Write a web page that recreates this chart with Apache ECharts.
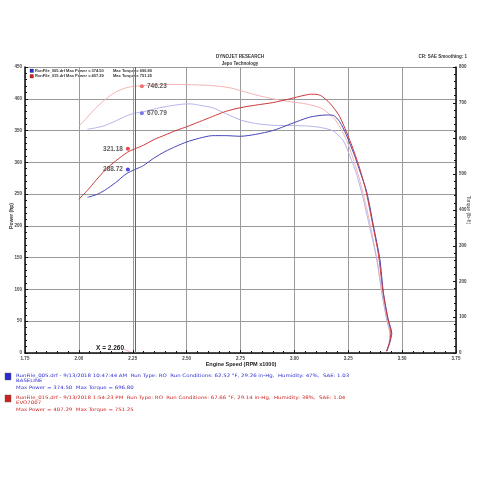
<!DOCTYPE html>
<html>
<head>
<meta charset="utf-8">
<script src="https://cdn.jsdelivr.net/npm/echarts/dist/echarts.min.js"></script>
<style>html,body{margin:0;padding:0;background:#fff;}#c{width:480px;height:480px;}</style>
</head>
<body>
<div id="c"></div>
<script>
// ---- data (x = engine speed, RPM x1000) ----
const xTicks = ['1.75','2.00','2.25','2.50','2.75','3.00','3.25','3.50','3.75'];
const powerTicks = [0,50,100,150,200,250,300,350,400,450];
const torqueTicks = [0,100,200,300,400,500,600,700,800];

const bluePower = [[2.04,245],[2.08,249],[2.12,256],[2.17,268],[2.22,282],[2.26,288.72],[2.30,295],[2.345,306],[2.40,317],[2.45,325],[2.50,332],[2.56,338],[2.62,342],[2.68,342],[2.75,341],[2.82,344],[2.90,350],[2.98,360],[3.07,371],[3.15,374.5],[3.18,374],[3.21,364],[3.24,344],[3.28,310],[3.30,290],[3.336,253],[3.367,200],[3.397,147],[3.413,95],[3.436,52],[3.452,31],[3.444,18],[3.428,3]];
const redPower = [[2.00,242],[2.04,256],[2.08,272],[2.12,287],[2.17,302],[2.226,316],[2.26,321.18],[2.30,327],[2.35,336],[2.40,343],[2.45,350],[2.50,356],[2.56,364],[2.62,372],[2.68,380],[2.75,386],[2.82,390],[2.90,394],[2.98,400],[3.04,405],[3.08,407.29],[3.12,405.5],[3.165,393],[3.21,372],[3.258,334],[3.297,297],[3.33,258],[3.36,208],[3.39,155],[3.41,100],[3.432,56],[3.448,32],[3.442,17],[3.428,3]];
const redTorque = [[2.00,634],[2.04,660],[2.08,686],[2.12,708],[2.17,730],[2.22,742],[2.26,746.23],[2.30,748],[2.38,751],[2.46,751.25],[2.54,750],[2.62,748],[2.70,742],[2.75,734],[2.82,722],[2.90,711],[2.98,703],[3.06,696],[3.13,683],[3.19,652],[3.243,594],[3.281,528],[3.305,480],[3.343,385],[3.38,270],[3.405,172],[3.428,95],[3.442,55],[3.44,30],[3.428,4]];
const blueTorque = [[2.04,626],[2.08,630],[2.12,636],[2.17,649],[2.22,663],[2.26,670.79],[2.30,675],[2.36,684],[2.42,691],[2.48,696],[2.52,696.8],[2.56,693],[2.62,686],[2.68,670],[2.75,652],[2.82,642],[2.90,637],[3.00,636],[3.06,635],[3.12,631],[3.18,621],[3.227,594],[3.258,550],[3.289,500],[3.32,430],[3.352,345],[3.385,255],[3.407,165],[3.43,90],[3.446,52],[3.443,30],[3.43,5]];

const cursorX = 2.26;
const cursorPower = { blue: 288.72, red: 321.18 };
const cursorTorque = { blue: 670.79, red: 746.23 };

const runInfo = [
  { color:'#2b2bd0', line1:'RunFile_005.drf - 9/13/2018 10:47:44 AM  Run Type: RO  Run Conditions: 62.52 °F, 29.26 in-Hg,  Humidity: 47%,  SAE: 1.03', line2:'BASELINE', line3:'Max Power = 374.50  Max Torque = 696.80' },
  { color:'#d02020', line1:'RunFile_015.drf - 9/13/2018 1:54:23 PM  Run Type: RO  Run Conditions: 67.66 °F, 29.14 in-Hg,  Humidity: 38%,  SAE: 1.04', line2:'EVO7007', line3:'Max Power = 407.29  Max Torque = 751.25' }
];
const legendRows = [
  { color:'#2b2bd0', a:'RunFile_005.drf Max Power = 374.50', b:'Max Torque = 696.80' },
  { color:'#d02020', a:'RunFile_015.drf Max Power = 407.29', b:'Max Torque = 751.25' }
];

const FONT = 'Liberation Sans, Arial, sans-serif';
const WIDE = 'DejaVu Sans, Verdana, sans-serif';
const chart = echarts.init(document.getElementById('c'), null, {renderer:'canvas'});

const graphics = [
  {type:'text', left:'center', top:54, style:{text:'DYNOJET RESEARCH', font:'bold 4.5px '+FONT, fill:'#333'}},
  {type:'text', left:'center', top:61, style:{text:'Jepo Technology', font:'bold 4.5px '+FONT, fill:'#333'}},
  {type:'text', right:13, top:54, style:{text:'CR: SAE Smoothing: 1', font:'bold 4.5px '+FONT, fill:'#333'}},
  {type:'text', x:96, y:345, style:{text:'X = 2.260', font:'bold 6.5px '+FONT, fill:'#222'}},
  {type:'line', shape:{x1:124, y1:349, x2:134, y2:354}, style:{stroke:'#f08080', lineWidth:0.6}},
  {type:'text', x:12, y:216, rotation:Math.PI/2, style:{text:'Power (hp)', font:'bold 5px '+FONT, fill:'#333', align:'center', verticalAlign:'middle'}},
  {type:'text', x:468, y:210, rotation:-Math.PI/2, style:{text:'Torque (lb-ft)', font:'5px '+FONT, fill:'#444', align:'center', verticalAlign:'middle'}},
  {type:'text', x:241, y:364, style:{text:'Engine Speed (RPM x1000)', font:'bold 5.5px '+FONT, fill:'#222', align:'center', verticalAlign:'middle'}}
];
legendRows.forEach((r,i)=>{
  const y = 69 + i*5.5;
  graphics.push({type:'rect', shape:{x:30, y:y, width:3.5, height:3.5}, style:{fill:r.color, stroke:'#333', lineWidth:0.3}});
  graphics.push({type:'text', x:35, y:y-0.3, style:{text:r.a, font:'bold 4px '+FONT, fill:'#333'}});
  graphics.push({type:'text', x:113, y:y-0.3, style:{text:r.b, font:'bold 4px '+FONT, fill:'#333'}});
});
runInfo.forEach((r,i)=>{
  const y0 = 373 + i*22;
  graphics.push({type:'rect', shape:{x:5, y:y0, width:6, height:7}, style:{fill:r.color, stroke:'#555', lineWidth:0.4}});
  graphics.push({type:'text', x:16, y:y0, scaleX:1.18, style:{text:r.line1, font:'4.6px '+WIDE, fill:r.color}});
  graphics.push({type:'text', x:16, y:y0+5, scaleX:1.18, style:{text:r.line2, font:'4.6px '+WIDE, fill:r.color}});
  graphics.push({type:'text', x:16, y:y0+12.5, scaleX:1.18, style:{text:r.line3, font:'4.6px '+WIDE, fill:r.color}});
});

function lineSeries(name, data, color, yIndex, z){
  return {name, type:'line', data, yAxisIndex:yIndex, showSymbol:false, smooth:0.25, smoothMonotone:'none',
    lineStyle:{color, width:1}, itemStyle:{color}, z, animation:false};
}
function markerSeries(value, yIndex, color, side){
  return {type:'scatter', yAxisIndex:yIndex, data:[[cursorX, value]], symbol:'circle', symbolSize:4,
    symbolOffset:[side==='left'?-7:7,0], itemStyle:{color}, z:10, animation:false,
    label:{show:true, position:side, distance: 3,
      formatter: value.toFixed(2), fontFamily:FONT, fontWeight:'bold', fontSize:6.5, color:'#333'}};
}

chart.setOption({
  animation:false,
  backgroundColor:'#fff',
  grid:{left:25, right:24, top:67, bottom:127, containLabel:false},
  xAxis:{type:'value', min:1.75, max:3.75, interval:0.25,
    axisLine:{show:true, onZero:false, lineStyle:{color:'#111', width:1.5}},
    axisTick:{show:true, inside:true, length:3, lineStyle:{color:'#111'}},
    minorTick:{show:true, splitNumber:5, length:2, lineStyle:{color:'#111'}},
    axisLabel:{fontFamily:FONT, fontSize:4.5, fontWeight:'bold', color:'#444', margin:3,
      formatter:v=>{const s=v.toFixed(2); return xTicks.indexOf(s)>=0?s:'';}},
    splitLine:{show:true, lineStyle:{color:'#9a9a9a', width:1}}},
  yAxis:[
    {type:'value', min:0, max:450, interval:50, position:'left',
      axisLine:{show:true, lineStyle:{color:'#111', width:1.5}},
      axisTick:{show:true, inside:true, length:3, lineStyle:{color:'#111'}},
      minorTick:{show:true, splitNumber:5, length:2, lineStyle:{color:'#111'}},
      axisLabel:{fontFamily:FONT, fontSize:4.5, fontWeight:'bold', color:'#444', margin:3,
        formatter:v=>powerTicks.indexOf(v)>=0?String(v):''},
      splitLine:{show:true, lineStyle:{color:'#9a9a9a', width:1}}},
    {type:'value', min:0, max:800, interval:100, position:'right',
      axisLine:{show:true, lineStyle:{color:'#111', width:1.5}},
      axisTick:{show:true, inside:true, length:3, lineStyle:{color:'#111'}},
      minorTick:{show:true, splitNumber:5, length:2, lineStyle:{color:'#111'}},
      axisLabel:{fontFamily:FONT, fontSize:4.5, fontWeight:'bold', color:'#444', margin:3,
        formatter:v=>torqueTicks.indexOf(v)>=0?String(v):''},
      splitLine:{show:false}}
  ],
  series:[
    lineSeries('RunFile_015 Torque', redTorque, '#f2b3b3', 1, 2),
    lineSeries('RunFile_005 Torque', blueTorque, '#b4b4ea', 1, 2),
    lineSeries('RunFile_005 Power', bluePower, '#4646b8', 0, 3),
    Object.assign(lineSeries('RunFile_015 Power', redPower, '#cc3a3a', 0, 3), {
      markLine:{silent:true, symbol:'none', label:{show:false}, lineStyle:{color:'#666', width:1, type:'solid'},
        data:[{xAxis:cursorX}]}}),
    markerSeries(cursorPower.blue, 0, '#1a1ae0', 'left'),
    markerSeries(cursorPower.red, 0, '#e01a1a', 'left'),
    markerSeries(cursorTorque.blue, 1, '#5a5ae8', 'right'),
    markerSeries(cursorTorque.red, 1, '#f05050', 'right')
  ],
  graphic: graphics
});
</script>
</body>
</html>
